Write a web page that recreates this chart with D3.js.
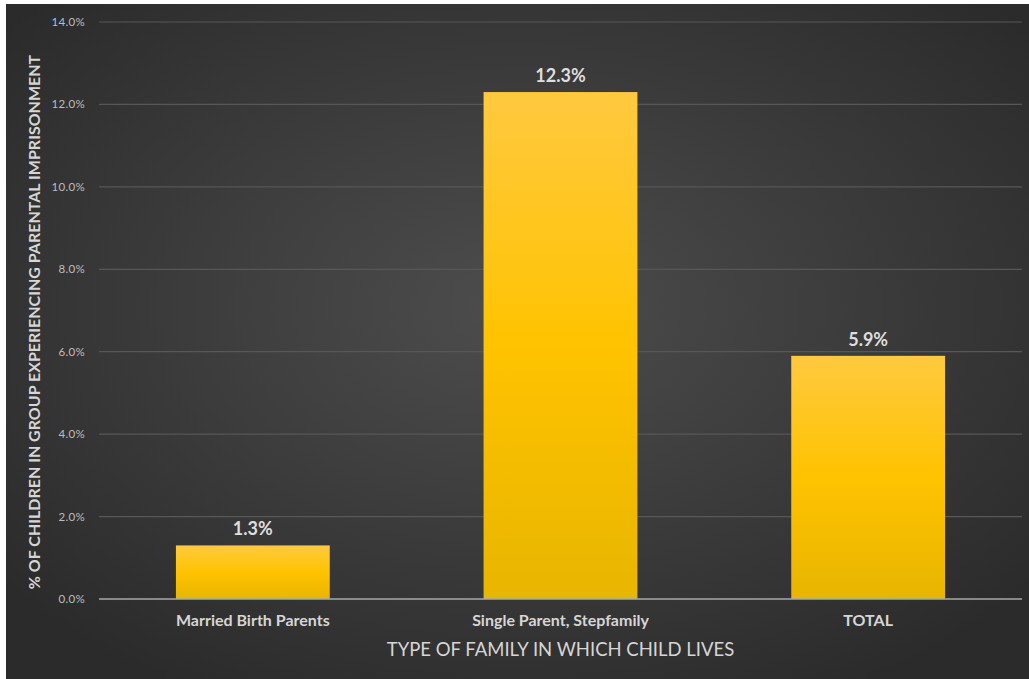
<!DOCTYPE html>
<html>
<head>
<meta charset="utf-8">
<script src="https://cdn.jsdelivr.net/npm/d3@7"></script>
<style>
  html, body { margin: 0; padding: 0; background: #ffffff; }
  svg { display: block; }
</style>
</head>
<body>
<svg id="chart" width="1029" height="679"></svg>
<script>
const categories = ["Married Birth Parents", "Single Parent, Stepfamily", "TOTAL"];
const values = [1.3, 12.3, 5.9];
const valueLabels = ["1.3%", "12.3%", "5.9%"];
const yTicks = [0, 2, 4, 6, 8, 10, 12, 14];
const yTitle = "% OF CHILDREN IN GROUP EXPERIENCING PARENTAL IMPRISONMENT";
const xTitle = "TYPE OF FAMILY IN WHICH CHILD LIVES";

const W = 1029, H = 679;
const svg = d3.select("#chart");
const defs = svg.append("defs");

const bg = defs.append("radialGradient").attr("id", "bg")
  .attr("cx", "50%").attr("cy", "45%").attr("r", "65%");
bg.append("stop").attr("offset", "0%").attr("stop-color", "#4d4d4d");
bg.append("stop").attr("offset", "100%").attr("stop-color", "#2b2b2b");

const barG = defs.append("linearGradient").attr("id", "barGrad")
  .attr("x1", 0).attr("y1", 0).attr("x2", 0).attr("y2", 1);
barG.append("stop").attr("offset", "0%").attr("stop-color", "#ffc93f");
barG.append("stop").attr("offset", "50%").attr("stop-color", "#ffc300");
barG.append("stop").attr("offset", "100%").attr("stop-color", "#e8b500");

svg.append("rect").attr("x", 6).attr("y", 4).attr("width", W - 6).attr("height", H - 4)
  .attr("fill", "url(#bg)");

const x0 = 99, x1 = 1022, yTop = 22, yBot = 599;
const x = d3.scaleBand().domain(categories).range([x0, x1]).paddingInner(0.5).paddingOuter(0.25);
const y = d3.scaleLinear().domain([0, 14]).range([yBot, yTop]);

const font = "Lato, 'Open Sans', sans-serif";

// gridlines
svg.append("g").selectAll("line").data(yTicks.filter(d => d > 0)).join("line")
  .attr("x1", x0).attr("x2", x1)
  .attr("y1", d => y(d)).attr("y2", d => y(d))
  .attr("stroke", "#575757").attr("stroke-width", 1.2);

// y tick labels
svg.append("g").selectAll("text").data(yTicks).join("text")
  .attr("x", 85).attr("y", d => y(d)).attr("dy", "0.35em")
  .attr("text-anchor", "end")
  .attr("font-family", font).attr("font-size", 11.5)
  .attr("letter-spacing", 0.3)
  .attr("fill", "#bdbdbd")
  .text(d => d.toFixed(1) + "%");

// bars
svg.append("g").selectAll("rect").data(values).join("rect")
  .attr("x", (d, i) => x(categories[i]))
  .attr("width", x.bandwidth())
  .attr("y", d => y(d))
  .attr("height", d => y(0) - y(d))
  .attr("fill", "url(#barGrad)");

// baseline
svg.append("line").attr("x1", x0).attr("x2", x1)
  .attr("y1", y(0)).attr("y2", y(0))
  .attr("stroke", "#a8a8a8").attr("stroke-width", 1.5);

// value labels
svg.append("g").selectAll("text").data(values).join("text")
  .attr("x", (d, i) => x(categories[i]) + x.bandwidth() / 2)
  .attr("y", d => y(d) - 10)
  .attr("text-anchor", "middle")
  .attr("font-family", font).attr("font-size", 18).attr("font-weight", "bold")
  .attr("fill", "#dedede")
  .text((d, i) => valueLabels[i]);

// category labels
svg.append("g").selectAll("text").data(categories).join("text")
  .attr("x", d => x(d) + x.bandwidth() / 2)
  .attr("y", 626)
  .attr("text-anchor", "middle")
  .attr("font-family", font).attr("font-size", 16).attr("font-weight", "bold")
  .attr("fill", "#d6d6d6")
  .text(d => d);

// x title
svg.append("text")
  .attr("x", (x0 + x1) / 2).attr("y", 656)
  .attr("text-anchor", "middle")
  .attr("font-family", font).attr("font-size", 18.5)
  .attr("fill", "#d6d6d6")
  .text(xTitle);

// y title
svg.append("text")
  .attr("transform", "translate(40,322) rotate(-90)")
  .attr("text-anchor", "middle")
  .attr("font-family", font).attr("font-size", 16).attr("font-weight", "bold")
  .attr("fill", "#d6d6d6")
  .text(yTitle);
</script>
</body>
</html>
